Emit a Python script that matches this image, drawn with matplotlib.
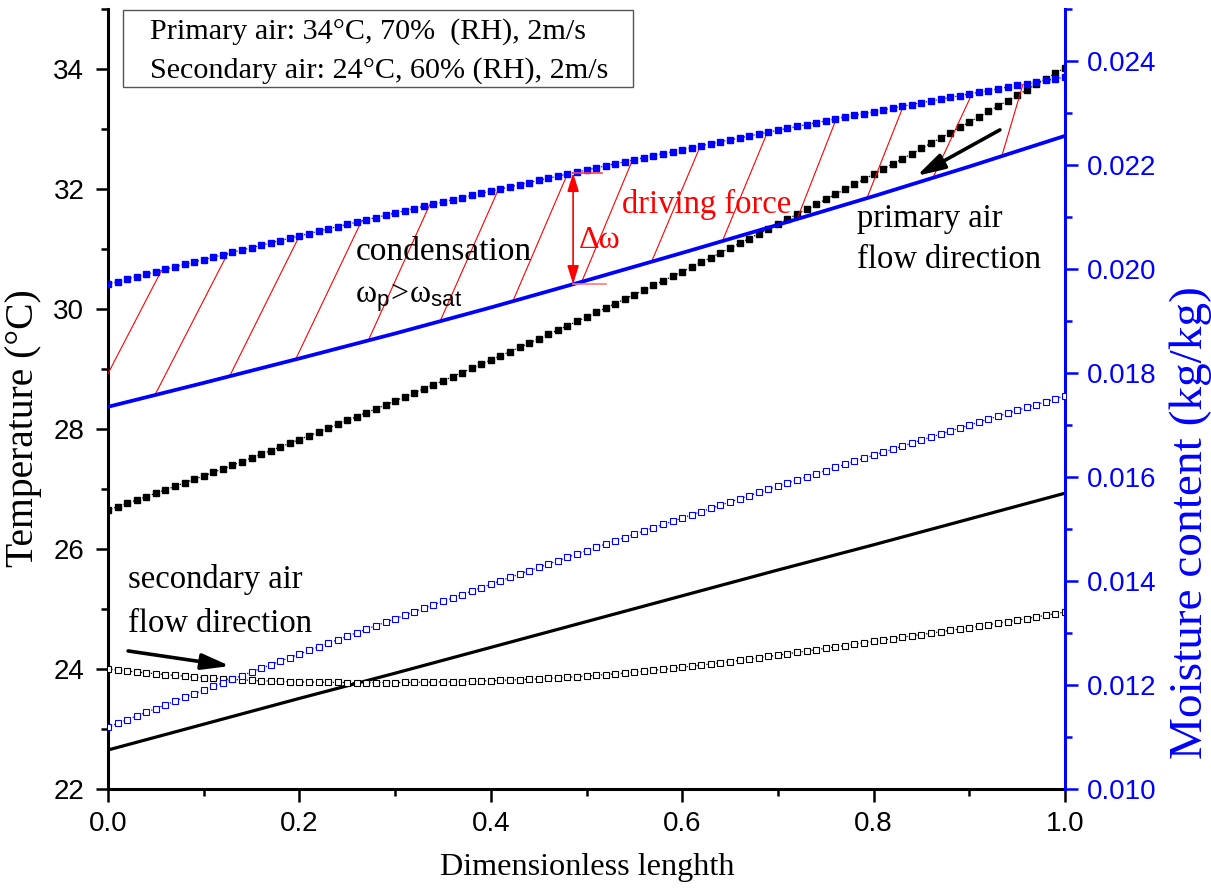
import numpy as np
import matplotlib
matplotlib.use("Agg")
import matplotlib.pyplot as plt
from matplotlib.patches import Rectangle
from matplotlib.ticker import MultipleLocator, FormatStrFormatter

plt.rcParams['font.family'] = 'Liberation Serif'
plt.rcParams['mathtext.fontset'] = 'custom'
plt.rcParams['mathtext.rm'] = 'Liberation Serif'
plt.rcParams['mathtext.it'] = 'Liberation Serif:italic'
plt.rcParams['mathtext.sf'] = 'Liberation Sans'

BLUE = '#0000ff'

# =============================================
# DATA
# =============================================

# dense series: one marker every 0.01 of the length
x_dense = np.linspace(0.0, 1.0, 101)

# primary air temperature (degC), black filled squares
t_primary = [
    26.650, 26.705, 26.761, 26.817, 26.873, 26.930, 26.987, 27.044, 27.102, 27.160,
    27.219, 27.278, 27.337, 27.397, 27.457, 27.517, 27.578, 27.639, 27.701, 27.763,
    27.825, 27.887, 27.950, 28.014, 28.078, 28.142, 28.206, 28.271, 28.337, 28.402,
    28.468, 28.535, 28.601, 28.669, 28.736, 28.804, 28.872, 28.941, 29.010, 29.079,
    29.149, 29.219, 29.290, 29.361, 29.432, 29.504, 29.576, 29.648, 29.721, 29.794,
    29.868, 29.942, 30.016, 30.090, 30.165, 30.241, 30.316, 30.393, 30.469, 30.546,
    30.623, 30.701, 30.779, 30.857, 30.936, 31.015, 31.095, 31.174, 31.255, 31.335,
    31.416, 31.498, 31.579, 31.661, 31.744, 31.827, 31.910, 31.994, 32.078, 32.162,
    32.247, 32.332, 32.417, 32.503, 32.589, 32.676, 32.763, 32.850, 32.938, 33.026,
    33.115, 33.204, 33.293, 33.382, 33.472, 33.563, 33.653, 33.745, 33.836, 33.928,
    34.020]

# secondary air temperature (degC), black open squares
t_secondary = [
    24.000, 23.983, 23.967, 23.951, 23.935, 23.920, 23.906, 23.893, 23.880, 23.867,
    23.855, 23.845, 23.835, 23.826, 23.818, 23.810, 23.804, 23.798, 23.793, 23.789,
    23.785, 23.782, 23.780, 23.778, 23.776, 23.775, 23.774, 23.774, 23.774, 23.774,
    23.775, 23.776, 23.778, 23.780, 23.782, 23.785, 23.788, 23.791, 23.795, 23.800,
    23.805, 23.810, 23.816, 23.822, 23.829, 23.836, 23.844, 23.853, 23.862, 23.872,
    23.882, 23.894, 23.906, 23.919, 23.933, 23.948, 23.963, 23.979, 23.995, 24.012,
    24.030, 24.048, 24.066, 24.085, 24.104, 24.124, 24.145, 24.166, 24.187, 24.209,
    24.231, 24.253, 24.276, 24.299, 24.322, 24.345, 24.368, 24.391, 24.414, 24.437,
    24.460, 24.483, 24.506, 24.529, 24.552, 24.575, 24.598, 24.621, 24.644, 24.667,
    24.690, 24.714, 24.739, 24.764, 24.789, 24.815, 24.841, 24.868, 24.895, 24.922,
    24.950]

# primary air moisture content (kg/kg), blue filled squares
w_primary = [
    0.019710, 0.019758, 0.019806, 0.019853, 0.019901, 0.019948, 0.019995, 0.020042, 0.020089, 0.020135,
    0.020182, 0.020228, 0.020274, 0.020320, 0.020366, 0.020412, 0.020457, 0.020502, 0.020547, 0.020592,
    0.020637, 0.020682, 0.020726, 0.020771, 0.020815, 0.020859, 0.020903, 0.020946, 0.020990, 0.021033,
    0.021076, 0.021119, 0.021162, 0.021205, 0.021247, 0.021290, 0.021332, 0.021374, 0.021416, 0.021457,
    0.021499, 0.021540, 0.021581, 0.021622, 0.021663, 0.021704, 0.021745, 0.021785, 0.021825, 0.021865,
    0.021905, 0.021945, 0.021984, 0.022024, 0.022063, 0.022102, 0.022141, 0.022180, 0.022218, 0.022257,
    0.022295, 0.022333, 0.022371, 0.022409, 0.022446, 0.022484, 0.022521, 0.022558, 0.022595, 0.022632,
    0.022668, 0.022705, 0.022741, 0.022777, 0.022813, 0.022849, 0.022884, 0.022920, 0.022955, 0.022990,
    0.023025, 0.023060, 0.023095, 0.023129, 0.023163, 0.023198, 0.023232, 0.023265, 0.023299, 0.023333,
    0.023366, 0.023399, 0.023432, 0.023465, 0.023497, 0.023530, 0.023562, 0.023594, 0.023626, 0.023658,
    0.023690]

# secondary air moisture content (kg/kg), blue open squares
w_secondary = [
    0.011190, 0.011262, 0.011334, 0.011405, 0.011477, 0.011548, 0.011619, 0.011690, 0.011761, 0.011831,
    0.011902, 0.011972, 0.012042, 0.012112, 0.012182, 0.012251, 0.012321, 0.012390, 0.012459, 0.012528,
    0.012597, 0.012665, 0.012734, 0.012802, 0.012870, 0.012938, 0.013006, 0.013074, 0.013141, 0.013208,
    0.013275, 0.013342, 0.013409, 0.013476, 0.013542, 0.013608, 0.013674, 0.013740, 0.013806, 0.013872,
    0.013937, 0.014003, 0.014068, 0.014133, 0.014197, 0.014262, 0.014326, 0.014391, 0.014455, 0.014519,
    0.014583, 0.014646, 0.014710, 0.014773, 0.014836, 0.014899, 0.014962, 0.015024, 0.015087, 0.015149,
    0.015211, 0.015273, 0.015335, 0.015397, 0.015458, 0.015519, 0.015581, 0.015641, 0.015702, 0.015763,
    0.015823, 0.015884, 0.015944, 0.016004, 0.016064, 0.016123, 0.016183, 0.016242, 0.016301, 0.016360,
    0.016419, 0.016477, 0.016536, 0.016594, 0.016652, 0.016710, 0.016768, 0.016826, 0.016883, 0.016941,
    0.016998, 0.017055, 0.017112, 0.017168, 0.017225, 0.017281, 0.017337, 0.017393, 0.017449, 0.017505,
    0.017560]

# solid lines (no markers)
x_coarse = [0.0, 0.1, 0.2, 0.3, 0.4, 0.5, 0.6, 0.7, 0.8, 0.9, 1.0]
t_wall = [22.65, 23.08, 23.51, 23.93, 24.36, 24.79, 25.22, 25.65, 26.07, 26.50, 26.93]
w_sat = [0.01735, 0.01781, 0.01828, 0.01876, 0.01926, 0.01978,
         0.02031, 0.02085, 0.02140, 0.02197, 0.02256]

# red hatching between omega_sat (bottom) and omega_p (top)
hatch_bottom_x = [-0.018, 0.049, 0.127, 0.196, 0.272, 0.347, 0.423,
                  0.495, 0.568, 0.642, 0.720, 0.793, 0.862, 0.934]
hatch_top_x = [0.056, 0.125, 0.200, 0.265, 0.336, 0.408, 0.480,
               0.548, 0.619, 0.689, 0.761, 0.831, 0.903, 0.956]
dw_x = 0.486

# =============================================
# PLOT
# =============================================

fig = plt.figure(figsize=(12.11, 8.94), dpi=100)
ax = fig.add_axes([108 / 1211, 105 / 894, 957 / 1211, 780 / 894])
ax2 = ax.twinx()

ax.plot(x_coarse, t_wall, color='k', lw=2.3, zorder=3)
ax.plot(x_dense, t_secondary, ':', color='k', lw=0.9, marker='s', ms=3.8,
        mfc='white', mec='k', mew=0.8, zorder=4)
ax.plot(x_dense, t_primary, ':', color='k', lw=0.9, marker='s', ms=3.7,
        mfc='k', mec='k', zorder=4)

for xb, xt in zip(hatch_bottom_x, hatch_top_x):
    yb = np.interp(xb, x_coarse, w_sat)
    yt = np.interp(xt, x_dense, w_primary)
    ax2.plot([xb, xt], [yb, yt], color='red', lw=0.8, zorder=1)

ax2.plot(x_coarse, w_sat, color=BLUE, lw=2.7, zorder=3)
ax2.plot(x_dense, w_secondary, ':', color=BLUE, lw=0.9, marker='s', ms=3.8,
         mfc='white', mec=BLUE, mew=0.8, zorder=4)
ax2.plot(x_dense, w_primary, ':', color=BLUE, lw=0.9, marker='s', ms=3.9,
         mfc=BLUE, mec=BLUE, zorder=4)

# delta omega arrow
w_top = np.interp(dw_x, x_dense, w_primary)
w_bot = np.interp(dw_x, x_coarse, w_sat)
ax2.annotate('', xy=(dw_x, w_top), xytext=(dw_x, w_bot),
             arrowprops=dict(arrowstyle='<|-|>,head_length=0.8,head_width=0.25',
                             color='red', lw=1.2, shrinkA=0, shrinkB=0,
                             mutation_scale=14), zorder=5)
ax2.plot([dw_x, dw_x + 0.03], [w_top, w_top], color='#ff4040', lw=1.2, zorder=5)
ax2.plot([dw_x, dw_x + 0.034], [w_bot, w_bot], color='#ff7a7a', lw=1.2, zorder=5)

# annotations
tr = ax2.transAxes
fs = 23.5
ax2.text(0.259, 0.678, 'condensation', transform=tr, fontsize=24, va='baseline')
ax2.text(0.258, 0.624, r'$\mathrm{\omega}_{\mathsf{p}}\!\mathrm{>}\!\mathrm{\omega}_{\mathsf{sat}}$',
         transform=tr, fontsize=23, va='baseline')
ax2.text(0.492, 0.694, 'Δω', transform=tr, fontsize=23, color='red', va='baseline')
ax2.text(0.537, 0.738, 'driving force', transform=tr, fontsize=fs, color='red', va='baseline')
ax2.text(0.783, 0.7205, 'primary air', transform=tr, fontsize=fs, va='baseline')
ax2.text(0.783, 0.668, 'flow direction', transform=tr, fontsize=fs, va='baseline')
ax2.text(0.021, 0.2577, 'secondary air', transform=tr, fontsize=fs, va='baseline')
ax2.text(0.021, 0.2013, 'flow direction', transform=tr, fontsize=fs, va='baseline')

arrow_kw = dict(arrowstyle='-|>,head_length=0.85,head_width=0.24', color='k',
                lw=2.6, shrinkA=0, shrinkB=0, mutation_scale=20)
ax2.annotate('', xy=(0.845, 0.786), xytext=(0.932, 0.845),
             xycoords='axes fraction', textcoords='axes fraction', arrowprops=arrow_kw)
ax2.annotate('', xy=(0.1275, 0.1577), xytext=(0.021, 0.177),
             xycoords='axes fraction', textcoords='axes fraction', arrowprops=arrow_kw)

# conditions box
ax2.add_patch(Rectangle((0.0157, 0.900), 0.533, 0.0987, transform=tr,
                        facecolor='white', edgecolor='#555555', lw=1.0,
                        clip_on=False, zorder=6))
ax2.text(0.0439, 0.9615, 'Primary air: 34°C, 70%  (RH), 2m/s', transform=tr,
         fontsize=21.7, va='baseline', zorder=7)
ax2.text(0.0439, 0.9115, 'Secondary air: 24°C, 60% (RH), 2m/s', transform=tr,
         fontsize=21.7, va='baseline', zorder=7)

# axis titles
ax.text(-0.0878, 0.4628, 'Temperature (°C)', transform=ax.transAxes, fontsize=28.5,
        rotation=90, ha='center', va='center')
ax.text(1.1317, 0.341, 'Moisture content (kg/kg)', transform=ax.transAxes, fontsize=34,
        rotation=90, ha='center', va='center', color=BLUE, clip_on=False)
ax.text(0.5005, -0.100, 'Dimensionless lenghth', transform=ax.transAxes, fontsize=23.2,
        ha='center', va='center')

# scales and ticks
ax.set_xlim(0, 1)
ax.set_ylim(22, 35)
ax2.set_ylim(0.010, 0.025)

ax.xaxis.set_major_locator(MultipleLocator(0.2))
ax.xaxis.set_minor_locator(MultipleLocator(0.1))
ax.yaxis.set_major_locator(MultipleLocator(2))
ax.yaxis.set_minor_locator(MultipleLocator(1))
ax2.yaxis.set_major_locator(MultipleLocator(0.002))
ax2.yaxis.set_minor_locator(MultipleLocator(0.001))
ax.xaxis.set_major_formatter(FormatStrFormatter('%.1f'))
ax.yaxis.set_major_formatter(FormatStrFormatter('%d'))
ax2.yaxis.set_major_formatter(FormatStrFormatter('%.3f'))

ax.tick_params(which='major', direction='out', length=9, width=1.8,
               labelsize=20, labelfontfamily='Liberation Sans')
ax.tick_params(which='minor', direction='out', length=5, width=1.8)
ax.tick_params(axis='x', pad=7)
ax.tick_params(axis='y', pad=8)
ax2.tick_params(axis='y', which='major', direction='out', length=9, width=1.8,
                colors=BLUE, labelsize=20, labelfontfamily='Liberation Sans', pad=7)
ax2.tick_params(axis='y', which='minor', direction='out', length=5, width=1.8, colors=BLUE)

for side in ['top', 'right']:
    ax.spines[side].set_visible(False)
for side in ['left', 'bottom']:
    ax.spines[side].set_linewidth(2.2)
for side in ['left', 'top', 'bottom']:
    ax2.spines[side].set_visible(False)
ax2.spines['right'].set_color(BLUE)
ax2.spines['right'].set_linewidth(2.2)

fig.savefig('out.png', dpi=100, facecolor='white')
plt.close(fig)
